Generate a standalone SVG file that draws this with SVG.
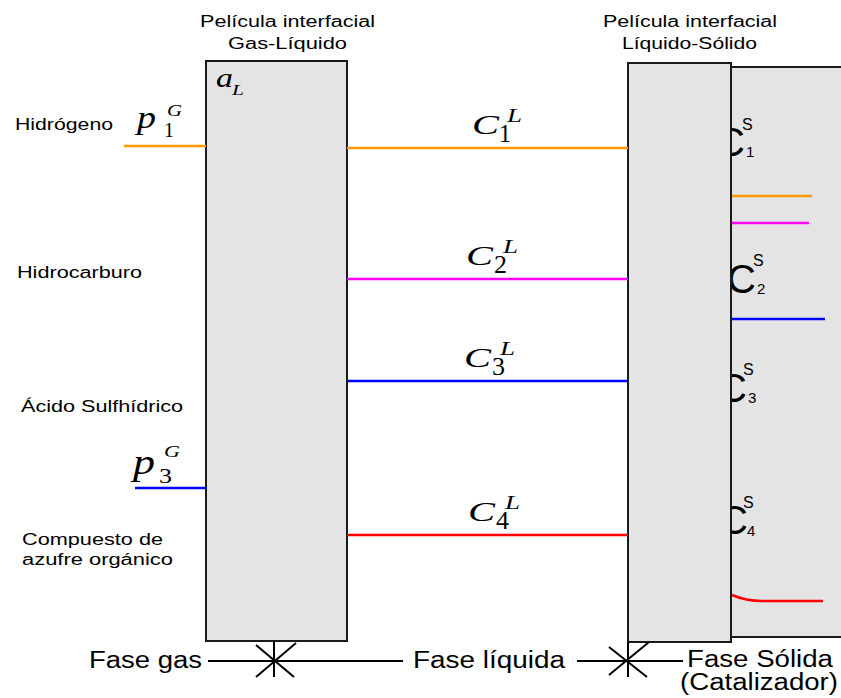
<svg xmlns="http://www.w3.org/2000/svg" width="841" height="698" viewBox="0 0 841 698">
<style>
.box{fill:#e4e4e4;stroke:#1a1a1a;stroke-width:2}
.lbl{font-family:"Liberation Sans",Arial,sans-serif;font-size:16px;fill:#000}
.big{font-family:"Liberation Sans",Arial,sans-serif;font-size:23px;fill:#000}
.m{font-family:"Liberation Serif","Times New Roman",serif;font-style:italic;fill:#000}
.r{font-family:"Liberation Serif","Times New Roman",serif;fill:#000}
.s{font-family:"Liberation Sans",Arial,sans-serif;fill:#000}
.ln{stroke-width:2.5;fill:none}
.k{stroke:#000;stroke-width:2;fill:none}
</style>
<rect width="841" height="698" fill="#fff"/>

<g id="solid-phase">
<rect class="box" x="731" y="67" width="120" height="570"/>
<text class="s" x="716" y="156" font-size="40">C</text>
<text class="s" x="727" y="293" font-size="40">C</text>
<text class="s" x="718" y="402" font-size="40">C</text>
<text class="s" x="719" y="534" font-size="40">C</text>
</g>

<g id="film-gas-liquid">
<rect class="box" x="206" y="61" width="141" height="580"/>
<text class="m" x="216" y="87" font-size="27" textLength="17" lengthAdjust="spacingAndGlyphs">a</text>
<text class="m" x="232" y="95" font-size="15" textLength="12" lengthAdjust="spacingAndGlyphs">L</text>
</g>

<g id="film-liquid-solid">
<rect class="box" x="628" y="63" width="103" height="579"/>
</g>

<g id="titles">
<text class="lbl" x="200" y="27" font-size="17" textLength="175" lengthAdjust="spacingAndGlyphs">Película interfacial</text>
<text class="lbl" x="228" y="49" font-size="17" textLength="119" lengthAdjust="spacingAndGlyphs">Gas-Líquido</text>
<text class="lbl" x="603" y="27" font-size="17" textLength="174" lengthAdjust="spacingAndGlyphs">Película interfacial</text>
<text class="lbl" x="622" y="49" font-size="17" textLength="135" lengthAdjust="spacingAndGlyphs">Líquido-Sólido</text>
</g>

<g id="species">
<text class="lbl" x="15" y="130" textLength="98" lengthAdjust="spacingAndGlyphs">Hidrógeno</text>
<text class="lbl" x="17" y="278" textLength="125" lengthAdjust="spacingAndGlyphs">Hidrocarburo</text>
<text class="lbl" x="21" y="412" textLength="162" lengthAdjust="spacingAndGlyphs">Ácido Sulfhídrico</text>
<text class="lbl" x="22" y="545" textLength="141" lengthAdjust="spacingAndGlyphs">Compuesto de</text>
<text class="lbl" x="22" y="565" textLength="151" lengthAdjust="spacingAndGlyphs">azufre orgánico</text>
</g>

<g id="connectors">
<line class="ln" x1="124" y1="146" x2="206" y2="146" stroke="#ff9900"/>
<line class="ln" x1="135" y1="488" x2="206" y2="488" stroke="#0000ff"/>
<line class="ln" x1="347" y1="148" x2="628" y2="148" stroke="#ff9900"/>
<line class="ln" x1="347" y1="279" x2="628" y2="279" stroke="#ff00ff"/>
<line class="ln" x1="347" y1="381" x2="628" y2="381" stroke="#0000ff"/>
<line class="ln" x1="347" y1="535" x2="628" y2="535" stroke="#ff0000"/>
<line class="ln" x1="732" y1="196" x2="812" y2="196" stroke="#ff9900"/>
<line class="ln" x1="732" y1="223" x2="809" y2="223" stroke="#ff00ff"/>
<line class="ln" x1="732" y1="319" x2="825" y2="319" stroke="#0000ff"/>
<path class="ln" d="M732 595 Q746 601 762 601 L823 601" stroke="#ff0000"/>
<line class="k" x1="208" y1="661" x2="403" y2="661"/>
<line class="k" x1="577" y1="661" x2="683" y2="661"/>
</g>

<g id="math-labels">
<text class="m" x="137" y="128" font-size="32" textLength="19" lengthAdjust="spacingAndGlyphs">p</text>
<text class="r" x="164" y="137" font-size="20">1</text>
<text class="m" x="167" y="116" font-size="16" textLength="15" lengthAdjust="spacingAndGlyphs">G</text>
<text class="m" x="133" y="474" font-size="36" textLength="22" lengthAdjust="spacingAndGlyphs">p</text>
<text class="r" x="159" y="483" font-size="22" textLength="13" lengthAdjust="spacingAndGlyphs">3</text>
<text class="m" x="164" y="457" font-size="16" textLength="16" lengthAdjust="spacingAndGlyphs">G</text>

<text class="m" x="472" y="134" font-size="28" textLength="27" lengthAdjust="spacingAndGlyphs">C</text>
<text class="r" x="499" y="142" font-size="26" textLength="12" lengthAdjust="spacingAndGlyphs">1</text>
<text class="m" x="507" y="122" font-size="18" textLength="15" lengthAdjust="spacingAndGlyphs">L</text>

<text class="m" x="466" y="265" font-size="28" textLength="27" lengthAdjust="spacingAndGlyphs">C</text>
<text class="r" x="494" y="273" font-size="26" textLength="13" lengthAdjust="spacingAndGlyphs">2</text>
<text class="m" x="503" y="253" font-size="18" textLength="15" lengthAdjust="spacingAndGlyphs">L</text>

<text class="m" x="464" y="367" font-size="28" textLength="27" lengthAdjust="spacingAndGlyphs">C</text>
<text class="r" x="492" y="375" font-size="26" textLength="13" lengthAdjust="spacingAndGlyphs">3</text>
<text class="m" x="500" y="355" font-size="18" textLength="15" lengthAdjust="spacingAndGlyphs">L</text>

<text class="m" x="468" y="521" font-size="28" textLength="27" lengthAdjust="spacingAndGlyphs">C</text>
<text class="r" x="496" y="529" font-size="26" textLength="13" lengthAdjust="spacingAndGlyphs">4</text>
<text class="m" x="505" y="509" font-size="18" textLength="15" lengthAdjust="spacingAndGlyphs">L</text>

<text class="s" x="742" y="130" font-size="16">S</text>
<text class="s" x="746" y="157" font-size="15">1</text>
<text class="s" x="753" y="266" font-size="16">S</text>
<text class="s" x="757" y="294" font-size="15">2</text>
<text class="s" x="743" y="375" font-size="16">S</text>
<text class="s" x="748" y="403" font-size="15">3</text>
<text class="s" x="743" y="508" font-size="16">S</text>
<text class="s" x="747" y="536" font-size="15">4</text>
</g>

<g id="phase-axis">
<g id="star-gas-liquid">
<line class="k" x1="274" y1="641" x2="274" y2="677"/>
<line class="k" x1="256" y1="645" x2="294" y2="677"/>
<line class="k" x1="296" y1="643" x2="256" y2="677"/>
</g>
<g id="star-liquid-solid">
<line class="k" x1="628" y1="642" x2="628" y2="677"/>
<line class="k" x1="609" y1="647" x2="647" y2="677"/>
<line class="k" x1="649" y1="642" x2="609" y2="675"/>
</g>
<text class="big" x="89" y="668" textLength="113" lengthAdjust="spacingAndGlyphs">Fase gas</text>
<text class="big" x="413" y="668" textLength="152" lengthAdjust="spacingAndGlyphs">Fase líquida</text>
<text class="big" x="687" y="667" textLength="146" lengthAdjust="spacingAndGlyphs">Fase Sólida</text>
<text class="big" x="680" y="690" textLength="158" lengthAdjust="spacingAndGlyphs">(Catalizador)</text>
</g>
</svg>
